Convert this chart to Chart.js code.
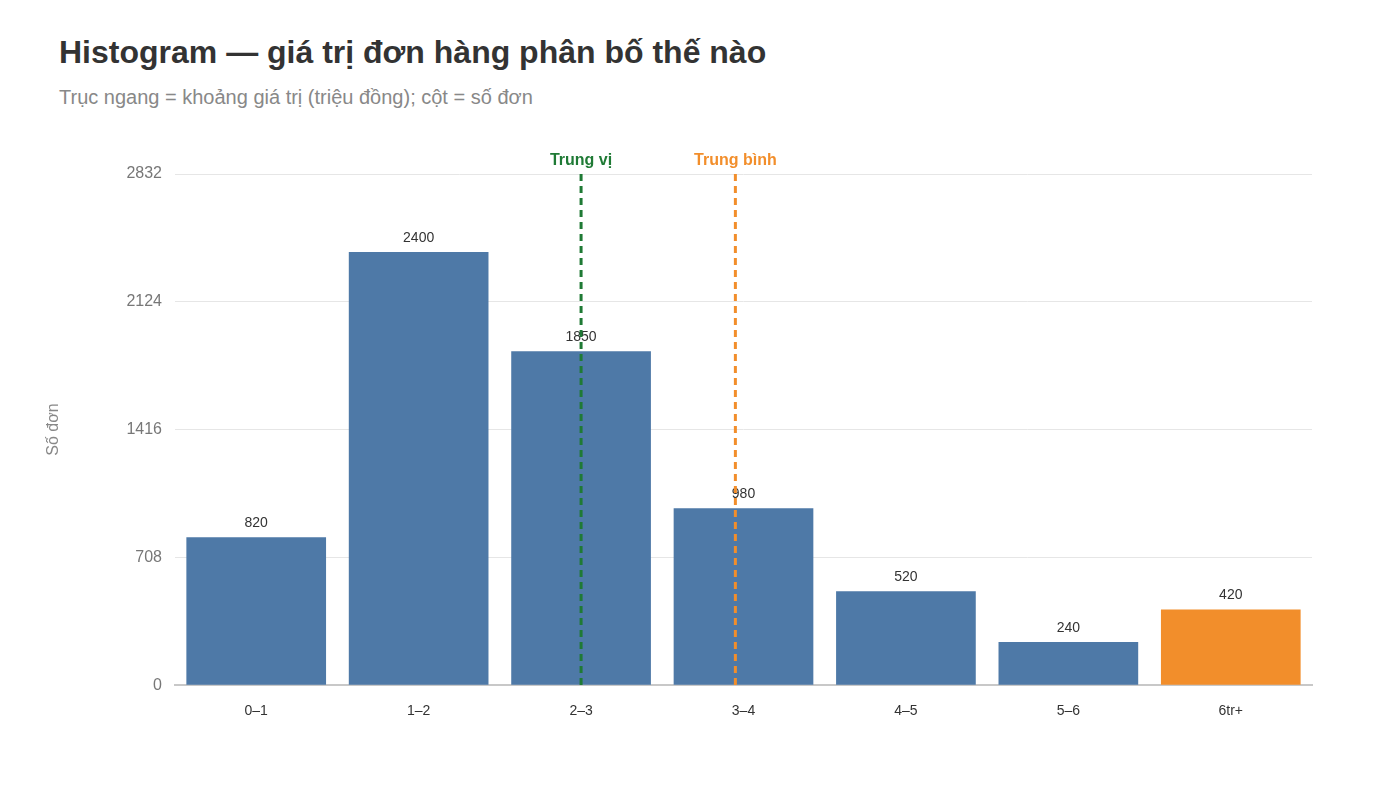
<!DOCTYPE html>
<html>
<head>
<meta charset="utf-8">
<script src="https://cdn.jsdelivr.net/npm/chart.js@4"></script>
<style>
  body { margin: 0; background: #fff; font-family: "Liberation Sans", Arial, sans-serif; }
  #wrap { position: absolute; left: 0; top: 0; width: 1400px; height: 787px; }
  h1 { position: absolute; left: 59px; top: 34px; margin: 0; font-size: 32px; font-weight: bold; color: #333; }
  .sub { position: absolute; left: 59px; top: 86px; margin: 0; font-size: 20px; color: #888; }
</style>
</head>
<body>
<h1>Histogram — giá trị đơn hàng phân bố thế nào</h1>
<p class="sub">Trục ngang = khoảng giá trị (triệu đồng); cột = số đơn</p>
<div id="wrap"><canvas id="grafico" width="1400" height="787"></canvas></div>
<script>
const khoang = ['0–1', '1–2', '2–3', '3–4', '4–5', '5–6', '6tr+']
const soDon = [820, 2400, 1850, 980, 520, 240, 420]
const mauCot = ['#4E79A7', '#4E79A7', '#4E79A7', '#4E79A7', '#4E79A7', '#4E79A7', '#F28E2B']
const yTicks = [0, 708, 1416, 2124, 2832]
// trung vi / trung binh (trieu dong)
const duongTham = [
  { nhan: 'Trung vị', giaTri: 2.5, mau: '#1F7A35' },
  { nhan: 'Trung bình', giaTri: 3.45, mau: '#F28E2B' }
]

const nhanCot = {
  id: 'nhanCot',
  afterDatasetsDraw(chart) {
    const ctx = chart.ctx
    const meta = chart.getDatasetMeta(0)
    ctx.save()
    ctx.font = '14px "Liberation Sans", Arial, sans-serif'
    ctx.fillStyle = '#333'
    ctx.textAlign = 'center'
    ctx.textBaseline = 'bottom'
    meta.data.forEach((bar, i) => {
      ctx.fillText(soDon[i], bar.x, bar.y - 7)
    })
    ctx.restore()
  }
}

const duongDoc = {
  id: 'duongDoc',
  afterDatasetsDraw(chart) {
    const ctx = chart.ctx
    const x = chart.scales.x
    const area = chart.chartArea
    ctx.save()
    duongTham.forEach(d => {
      const idx = d.giaTri - 0.5
      const px = x.getPixelForValue(0) + idx * (x.getPixelForValue(1) - x.getPixelForValue(0))
      ctx.strokeStyle = d.mau
      ctx.lineWidth = 3
      ctx.setLineDash([7, 5])
      ctx.beginPath()
      ctx.moveTo(px, area.top)
      ctx.lineTo(px, area.bottom)
      ctx.stroke()
      ctx.setLineDash([])
      ctx.fillStyle = d.mau
      ctx.font = 'bold 16px "Liberation Sans", Arial, sans-serif'
      ctx.textAlign = 'center'
      ctx.textBaseline = 'bottom'
      ctx.fillText(d.nhan, px, area.top - 5)
    })
    ctx.restore()
  }
}

new Chart(document.getElementById('grafico'), {
  type: 'bar',
  data: {
    labels: khoang,
    datasets: [{
      label: 'Số đơn',
      data: soDon,
      backgroundColor: mauCot,
      categoryPercentage: 1,
      barPercentage: 0.86
    }]
  },
  options: {
    responsive: false,
    animation: false,
    layout: { padding: { left: 40, top: 174, right: 88, bottom: 49 } },
    plugins: { legend: { display: false }, tooltip: { enabled: false } },
    scales: {
      x: {
        grid: { display: false, drawTicks: false },
        border: { color: '#c8c8c8', width: 2 },
        ticks: { color: '#333', padding: 18, font: { size: 14, family: '"Liberation Sans", Arial, sans-serif' } }
      },
      y: {
        min: 0,
        max: 2832,
        afterBuildTicks(scale) { scale.ticks = yTicks.map(v => ({ value: v })) },
        afterFit(scale) { scale.width = 135 },
        grid: { color: '#e6e6e6', drawTicks: false },
        border: { display: false },
        ticks: { color: '#777', padding: 13, callback: v => String(v), font: { size: 16, family: '"Liberation Sans", Arial, sans-serif' } },
        title: { display: true, text: 'Số đơn', color: '#888', font: { size: 16, family: '"Liberation Sans", Arial, sans-serif' } }
      }
    }
  },
  plugins: [nhanCot, duongDoc]
})
</script>
</body>
</html>
